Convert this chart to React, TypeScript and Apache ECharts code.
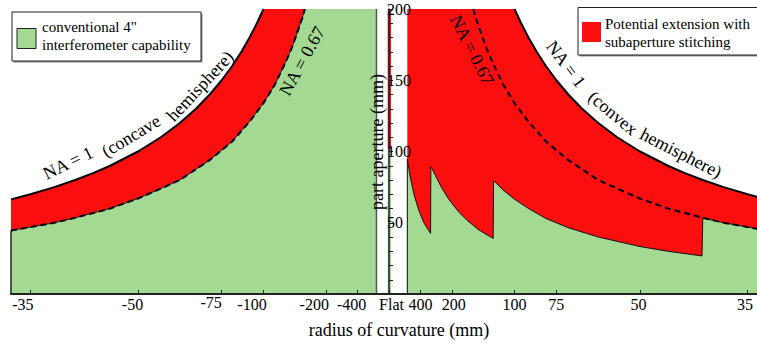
import React, { useEffect, useRef } from 'react';
import * as echarts from 'echarts';

// ---- data (radius of curvature in mm, negative = concave; aperture in mm) ----
const na1ConcaveR = [-33.2, -35, -37.5, -40, -42.5, -45, -50, -55, -60, -65, -70, -75, -80, -85, -90, -95, -100];
const na1ConcaveD = [66.4, 70, 75, 80, 85, 90, 100, 110, 120, 130, 140, 150, 160, 170, 180, 190, 200];

const na067ConcaveR = [-33.2, -35, -37.5, -40, -45, -50, -55, -60, -70, -80, -90, -100, -110, -120, -125, -130, -135, -140, -145, -149];
const na067ConcaveD = [44.5, 47, 50, 53.5, 60, 67, 74, 80, 94, 107, 121, 134, 147, 161, 167.5, 174, 181, 188, 194, 200];

const concaveLimitR = -1000;
const apertureMax = 200;
const flatConventionalD = 101.6;

const na1ConvexR = [100, 95, 90, 85, 80, 75, 70, 65, 60, 55, 50, 45, 42.5, 40, 37.5, 35, 33.8];
const na1ConvexD = [200, 190, 180, 170, 160, 150, 140, 130, 120, 110, 100, 90, 85, 80, 75, 70, 67.6];

const na067ConvexR = [149, 145, 140, 135, 130, 125, 120, 110, 100, 90, 80, 70, 60, 55, 50, 45, 42.5, 40, 37.5, 35, 33.8];
const na067ConvexD = [200, 194, 188, 181, 174, 167.5, 161, 147, 134, 121, 107, 94, 80, 74, 67, 60, 57, 53.5, 50, 47, 45.3];

const convexStartR = 686;
const convexConventionalR = [686, 686, 600, 500, 420, 360, 302, 300, 270, 240, 210, 180, 160, 140, 120.5, 120, 110, 100, 90, 80, 70, 60, 50, 45, 40.1, 40, 37.5, 35, 33.8];
const convexConventionalD = [0, 95, 83, 69.5, 58.5, 50, 42.5, 89.5, 83, 75, 66.5, 57.5, 51.5, 45, 39, 79.5, 73, 66.5, 60, 53, 46.5, 40, 33.3, 30, 26.7, 53.3, 50, 47, 45.3];

const tickLabels = ['-35', '-50', '-75', '-100', '-200', '-400', 'Flat', '400', '200', '100', '75', '50', '35'];

// ---- styles ----
const GREEN = '#a3d993';
const RED = '#fa0e0e';
const FONT = "'Liberation Serif', 'Times New Roman', serif";
const labelPad: number[][] = [
  [0, 15, 0, 0], [0, 11, 0, 0], [0, 21, 3, 0], [0, 23, 0, 0], [0, 24, 0, 0], [0, 12, 0, 0],
  [0, 0, 0, 5], [0, 0, 0, 0], [0, 0, 0, 4], [0, 0, 0, 0], [0, 0, 0, 0], [0, 3, 0, 0], [0, 5, 0, 0],
];

const curv = (r: number) => 1 / r;
const pts = (rs: number[], ds: number[]) => rs.map((r, i) => [curv(r), ds[i]]);
const tickCurv = tickLabels.map((l) => (l === 'Flat' ? 0 : 1 / Number(l)));
const deg = (d: number) => (d * Math.PI) / 180;

const X_MIN = -0.03012;
const X_MAX = 0.02932;
const GRID_LEFT = 11;
const GRID_WIDTH = 757 - GRID_LEFT;

export default function App() {
  const ref = useRef<HTMLDivElement>(null);
  useEffect(() => {
    if (!ref.current) return;
    const chart = echarts.init(ref.current, null, { renderer: 'svg' });

    const rich: any = {};
    labelPad.forEach((p, i) => {
      rich['t' + i] = { fontSize: 16, fontFamily: FONT, color: '#000', padding: p, lineHeight: 16 };
    });

    const noSymbol = { showSymbol: false, symbol: 'none' as const };
    const concaveGreen = [
      [curv(na067ConcaveR[0]), 0],
      ...pts(na067ConcaveR, na067ConcaveD),
      [curv(concaveLimitR), apertureMax],
    ];
    const concaveRed = [...pts(na1ConcaveR, na1ConcaveD), [curv(concaveLimitR), apertureMax]];
    const convexRed = [[curv(convexStartR), apertureMax], ...pts(na1ConvexR, na1ConvexD)];

    // y axis sits at zero curvature (Flat)
    const yAxisOffset = -((0 - X_MIN) / (X_MAX - X_MIN)) * GRID_WIDTH;

    const txt = (text: string, x: number, y: number, rot: number, size = 18, align = 'center') => ({
      type: 'text',
      x,
      y,
      rotation: deg(rot),
      z: 100,
      style: { text, font: `${size}px ${FONT}`, fill: '#000', textAlign: align, textVerticalAlign: 'middle' },
    });

    const option: any = {
      animation: false,
      grid: { left: GRID_LEFT, right: 0, top: 9, bottom: 51, containLabel: false, outerBoundsMode: 'none' },
      xAxis: {
        type: 'value',
        min: X_MIN,
        max: X_MAX,
        z: 5,
        splitLine: { show: false },
        axisLine: { show: true, onZero: false, lineStyle: { color: '#222', width: 2 } },
        axisTick: { show: true, inside: true, length: 4, customValues: tickCurv, lineStyle: { color: '#222', width: 1 } },
        axisLabel: {
          customValues: tickCurv,
          margin: 2,
          formatter: (v: number) => {
            const i = tickCurv.findIndex((t) => Math.abs(t - v) < 1e-9);
            return i < 0 ? '' : `{t${i}|${tickLabels[i]}}`;
          },
          rich,
        },
      },
      yAxis: {
        type: 'value',
        min: 0,
        max: 200,
        interval: 10,
        z: 5,
        position: 'left',
        offset: yAxisOffset,
        splitLine: { show: false },
        axisLine: { show: true, onZero: false, lineStyle: { color: '#222', width: 1.5 } },
        axisTick: { show: true, inside: true, length: 4, lineStyle: { color: '#222', width: 1 } },
        axisLabel: {
          inside: true,
          margin: -2,
          fontSize: 16,
          fontFamily: FONT,
          color: '#000',
          formatter: (v: number) => (v > 0 && v % 50 === 0 ? String(v) : ''),
        },
      },
      series: [
        // red (stitching) areas
        { type: 'line', data: concaveRed, z: 1, ...noSymbol, lineStyle: { width: 0, opacity: 0 }, areaStyle: { color: RED, opacity: 1 } },
        { type: 'line', data: convexRed, z: 1, ...noSymbol, lineStyle: { width: 0, opacity: 0 }, areaStyle: { color: RED, opacity: 1 } },
        // conventional (green) areas
        { type: 'line', data: concaveGreen, z: 2, ...noSymbol, lineStyle: { width: 0, opacity: 0 }, areaStyle: { color: GREEN, opacity: 1 } },
        {
          type: 'line', data: pts(convexConventionalR, convexConventionalD), z: 2, ...noSymbol,
          lineStyle: { color: '#111', width: 1 }, areaStyle: { color: GREEN, opacity: 1 },
        },
        // flat strip
        {
          type: 'custom',
          z: 2,
          encode: { x: 0, y: [1, 2] },
          data: [[0, 0, flatConventionalD, 0], [0, flatConventionalD, apertureMax, 1]],
          renderItem: (params: any, api: any) => {
            const p0 = api.coord([api.value(0), api.value(1)]);
            const p1 = api.coord([api.value(0), api.value(2)]);
            return {
              type: 'rect',
              shape: { x: p0[0] - 1.3, y: p1[1], width: 3.3, height: p0[1] - p1[1] },
              style: { fill: api.value(3) === 0 ? GREEN : RED },
            };
          },
        },
        // green outlines on the concave side
        { type: 'line', data: [[curv(concaveLimitR), 0], [curv(concaveLimitR), apertureMax]], z: 3, ...noSymbol, lineStyle: { color: '#555', width: 1.5 } },
        { type: 'line', data: [[curv(na067ConcaveR[0]), 0], [curv(na067ConcaveR[0]), na067ConcaveD[0]]], z: 3, ...noSymbol, lineStyle: { color: '#222', width: 1.5 } },
        { type: 'line', data: pts(na067ConcaveR, na067ConcaveD), z: 3, ...noSymbol, lineStyle: { color: '#222', width: 1 } },
        // NA curves
        { type: 'line', data: pts(na1ConcaveR, na1ConcaveD), z: 4, ...noSymbol, lineStyle: { color: '#000', width: 2 } },
        { type: 'line', data: pts(na1ConvexR, na1ConvexD), z: 4, ...noSymbol, lineStyle: { color: '#000', width: 2 } },
        { type: 'line', data: pts(na067ConcaveR, na067ConcaveD), z: 4, ...noSymbol, lineStyle: { color: '#000', width: 2, type: [6, 4] } },
        { type: 'line', data: pts(na067ConvexR, na067ConvexD), z: 4, ...noSymbol, lineStyle: { color: '#000', width: 2, type: [6, 4] } },
      ],
      graphic: [
        // curve annotations
        txt('NA = 1', 68, 163, 26),
        txt('(concave', 131, 136, 31),
        txt('hemisphere)', 200, 86, 47),
        txt('NA = 0.67', 302, 61, 61),
        txt('NA = 0.67', 472, 50, -63),
        txt('NA = 1', 566, 64, -53),
        txt('(convex', 613, 113, -40),
        txt('hemisphere)', 681, 153, -27),
        // axis titles
        txt('part aperture (mm)', 377, 142, 90),
        txt('radius of curvature (mm)', 399, 330, 0),
        // legend left
        { type: 'rect', z: 100, shape: { x: 13.5, y: 13.5, width: 189, height: 49 }, style: { fill: '#888' } },
        { type: 'rect', z: 101, shape: { x: 12, y: 12, width: 189, height: 49 }, style: { fill: '#fff', stroke: '#222', lineWidth: 1 } },
        { type: 'rect', z: 102, shape: { x: 17, y: 28.5, width: 19, height: 20 }, style: { fill: GREEN, stroke: '#222', lineWidth: 1 } },
        { ...txt('conventional 4"', 42, 27, 0, 15, 'left'), z: 102 },
        { ...txt('interferometer capability', 42, 45, 0, 15, 'left'), z: 102 },
        // legend right
        { type: 'rect', z: 100, shape: { x: 579.5, y: 9, width: 200, height: 47.5 }, style: { fill: '#888' } },
        { type: 'rect', z: 101, shape: { x: 578, y: 7.5, width: 200, height: 47.5 }, style: { fill: '#fff', stroke: '#222', lineWidth: 1 } },
        { type: 'rect', z: 102, shape: { x: 582, y: 22, width: 19, height: 20 }, style: { fill: RED } },
        { ...txt('Potential extension with', 605, 23.5, 0, 15, 'left'), z: 102 },
        { ...txt('subaperture stitching', 605, 42, 0, 15, 'left'), z: 102 },
      ],
    };
    chart.setOption(option);
    return () => chart.dispose();
  }, []);

  return <div ref={ref} style={{ position: 'fixed', left: 0, top: 0, width: 757, height: 345, background: '#fff' }} />;
}
